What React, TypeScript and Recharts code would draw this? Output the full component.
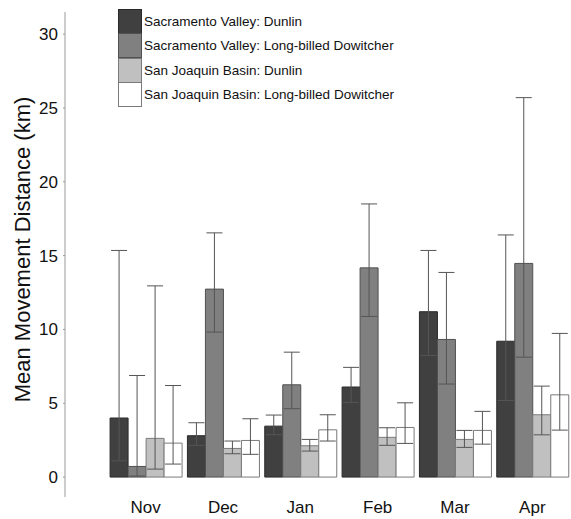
import { Bar, BarChart, ErrorBar, XAxis, YAxis } from "recharts";

const months = ["Nov", "Dec", "Jan", "Feb", "Mar", "Apr"];
const yTicks = [0, 5, 10, 15, 20, 25, 30];

// mean movement distance (km) with lower / upper error limits
const svDunlin = [4.0, 2.8, 3.45, 6.1, 11.2, 9.2];
const svDunlinLow = [1.1, 2.15, 2.87, 5.06, 8.24, 5.19];
const svDunlinHigh = [15.35, 3.68, 4.2, 7.43, 15.35, 16.4];

const svDowitcher = [0.72, 12.73, 6.25, 14.17, 9.32, 14.47];
const svDowitcherLow = [0.07, 9.82, 4.63, 10.88, 6.3, 8.12];
const svDowitcherHigh = [6.88, 16.54, 8.46, 18.5, 13.86, 25.7];

const sjDunlin = [2.62, 1.94, 2.12, 2.69, 2.55, 4.22];
const sjDunlinLow = [0.54, 1.58, 1.76, 2.15, 2.01, 2.86];
const sjDunlinHigh = [12.95, 2.44, 2.55, 3.34, 3.16, 6.16];

const sjDowitcher = [2.3, 2.48, 3.2, 3.36, 3.16, 5.57];
const sjDowitcherLow = [0.88, 1.54, 2.44, 2.28, 2.23, 3.18];
const sjDowitcherHigh = [6.2, 3.95, 4.22, 5.03, 4.45, 9.73];

const series = [
  { key: "svd", name: "Sacramento Valley: Dunlin", fill: "#404040", stroke: "#2a2a2a", values: svDunlin, low: svDunlinLow, high: svDunlinHigh },
  { key: "svl", name: "Sacramento Valley: Long-billed Dowitcher", fill: "#808080", stroke: "#505050", values: svDowitcher, low: svDowitcherLow, high: svDowitcherHigh },
  { key: "sjd", name: "San Joaquin Basin: Dunlin", fill: "#c0c0c0", stroke: "#7a7a7a", values: sjDunlin, low: sjDunlinLow, high: sjDunlinHigh },
  { key: "sjl", name: "San Joaquin Basin: Long-billed Dowitcher", fill: "#ffffff", stroke: "#7a7a7a", values: sjDowitcher, low: sjDowitcherLow, high: sjDowitcherHigh },
];

const data = months.map((m, i) => {
  const row: Record<string, any> = { month: m };
  series.forEach((s) => {
    row[s.key] = s.values[i];
    row[s.key + "Err"] = [s.values[i] - s.low[i], s.high[i] - s.values[i]];
  });
  return row;
});

const FONT = "'Liberation Sans', Arial, sans-serif";

// legend sits over the plot's upper-left corner
const LegendBox = () => (
  <div
    style={{
      position: "absolute",
      left: 118,
      top: 9,
      fontFamily: FONT,
      fontSize: 13.5,
      color: "#111",
    }}
  >
    {series.map((s) => (
      <div key={s.key} style={{ display: "flex", alignItems: "center", height: 24.5 }}>
        <div
          style={{
            width: 22,
            height: 23,
            boxSizing: "content-box",
            background: s.fill,
            border: `1px solid ${s.stroke}`,
            marginRight: 2,
          }}
        />
        <span style={{ whiteSpace: "nowrap" }}>{s.name}</span>
      </div>
    ))}
  </div>
);

const YLabel = (props: any) => {
  const vb = props.viewBox || { x: 0, y: 0, height: 0 };
  const cy = vb.y + vb.height / 2 - 5;
  return (
    <text
      x={22}
      y={cy}
      transform={`rotate(-90, 22, ${cy})`}
      textAnchor="middle"
      dominantBaseline="central"
      fontFamily={FONT}
      fontSize={22}
      fill="#111"
    >
      Mean Movement Distance (km)
    </text>
  );
};

export default function App() {
  return (
    <div style={{ position: "absolute", left: 0, top: 0, width: 571, height: 519, background: "#fff" }}>
      <BarChart
        width={571}
        height={519}
        data={data}
        margin={{ top: 12, right: 0, left: 0, bottom: 0 }}
        barCategoryGap="4%"
        barGap={0}
      >
        <XAxis
          dataKey="month"
          axisLine={false}
          tickLine={false}
          tickSize={0}
          tickMargin={4}
          height={22}
          padding={{ left: 42, right: 0 }}
          tick={{ fontFamily: FONT, fontSize: 17, fill: "#111" }}
        />
        <YAxis
          type="number"
          domain={[-1.35, 31.5]}
          ticks={yTicks}
          width={65}
          allowDataOverflow
          axisLine={{ stroke: "#9a9a9a" }}
          tickLine={{ stroke: "#9a9a9a" }}
          tickSize={2}
          tickMargin={5}
          tick={{ fontFamily: FONT, fontSize: 17, fill: "#111" }}
          label={<YLabel />}
        />
        {series.map((s) => (
          <Bar
            key={s.key}
            dataKey={s.key}
            name={s.name}
            fill={s.fill}
            stroke={s.stroke}
            strokeWidth={1}
            isAnimationActive={false}
          >
            <ErrorBar
              dataKey={s.key + "Err"}
              width={8}
              stroke="#555"
              strokeWidth={1}
              direction="y"
            />
          </Bar>
        ))}
      </BarChart>
      <LegendBox />
    </div>
  );
}
